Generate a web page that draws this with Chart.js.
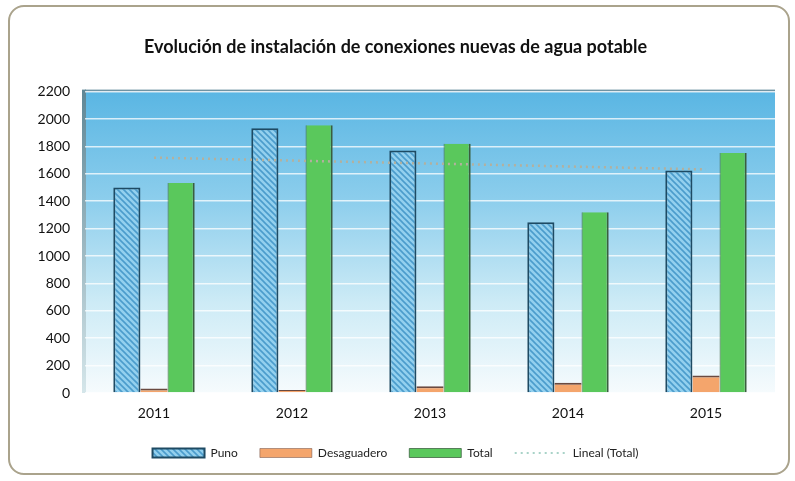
<!DOCTYPE html>
<html>
<head>
<meta charset="utf-8">
<script src="https://cdn.jsdelivr.net/npm/chart.js@4.4.0/dist/chart.umd.min.js"></script>
<style>
  body { margin: 0; background: #fff; }
  .wrap { position: relative; width: 795px; height: 481px; }
  .card {
    position: absolute; left: 8px; top: 5px; width: 782px; height: 470px;
    border: 2px solid #aaa38c; border-radius: 16px; box-sizing: border-box;
  }
  canvas { position: absolute; left: 0; top: 0; }
</style>
</head>
<body>
<div class="wrap">
  <div class="card"></div>
  <canvas id="myChart" width="795" height="481"></canvas>
</div>
<script>
// values
const years = ["2011", "2012", "2013", "2014", "2015"];
const puno = [1500, 1932, 1770, 1246, 1624];
const desaguadero = [32, 22, 49, 74, 128];
const total = [1532, 1954, 1819, 1320, 1752];
// linear trend of Total, ends
const trend = [1718, null, null, null, 1632];
const yTicks = [0, 200, 400, 600, 800, 1000, 1200, 1400, 1600, 1800, 2000, 2200];

// blue hatch for Puno
function makeHatch() {
    const c = document.createElement("canvas");
    c.width = 6; c.height = 6;
    const g = c.getContext("2d");
    g.fillStyle = "#93d0ee";
    g.fillRect(0, 0, 6, 6);
    g.strokeStyle = "#4b9ccc";
    g.lineWidth = 1.6;
    g.beginPath();
    g.moveTo(-1, -1); g.lineTo(7, 7);
    g.moveTo(-4, 2); g.lineTo(4, 10);
    g.moveTo(2, -4); g.lineTo(10, 4);
    g.stroke();
    return g.createPattern(c, "repeat");
}
const ctx = document.getElementById("myChart").getContext("2d");
const hatch = makeHatch();

// blue wall behind the plot
const wallPlugin = {
    id: "wall",
    beforeDraw(chart) {
        const a = chart.chartArea, c = chart.ctx;
        const grad = c.createLinearGradient(0, a.top, 0, a.bottom);
        grad.addColorStop(0, "#5ab6e3");
        grad.addColorStop(0.35, "#8bcdec");
        grad.addColorStop(0.7, "#cdebf6");
        grad.addColorStop(1, "#f6fbfd");
        c.save();
        c.fillStyle = grad;
        c.fillRect(a.left, a.top, a.right - a.left, a.bottom - a.top);
        c.fillStyle = "#6f93a3";
        c.fillRect(a.left, a.top - 2, a.right - a.left, 2);
        const side = c.createLinearGradient(0, a.top, 0, a.bottom);
        side.addColorStop(0, "#5f8796");
        side.addColorStop(1, "#d5e6ea");
        c.fillStyle = side;
        c.fillRect(a.left - 3, a.top - 2, 4, a.bottom - a.top + 2);
        c.restore();
    }
};

new Chart(ctx, {
    type: "bar",
    data: {
        labels: years,
        datasets: [
            {
                label: "Puno",
                data: puno,
                backgroundColor: hatch,
                borderColor: "#1e4a63",
                borderWidth: 2,
                pointStyle: "rect",
                order: 2,
            },
            {
                label: "Desaguadero",
                data: desaguadero,
                backgroundColor: "#f4a56c",
                borderColor: "#6a4a40",
                borderWidth: { top: 2, left: 0, right: 0, bottom: 0 },
                borderSkipped: false,
                pointStyle: "rect",
                order: 2,
            },
            {
                label: "Total",
                data: total,
                backgroundColor: "#5ac85c",
                borderColor: "#3a5e3e",
                borderWidth: { top: 0, left: 1, right: 2, bottom: 0 },
                borderSkipped: false,
                pointStyle: "rect",
                order: 2,
            },
            {
                type: "line",
                label: "Lineal (Total)",
                data: trend,
                spanGaps: true,
                borderColor: "#b3b09e",
                backgroundColor: "rgba(0,0,0,0)",
                borderWidth: 2.5,
                borderDash: [2, 4],
                pointRadius: 0,
                pointStyle: "line",
                order: 1,
            },
        ],
    },
    options: {
        responsive: false,
        animation: false,
        datasets: {
            bar: { categoryPercentage: 0.59, barPercentage: 1 },
        },
        layout: { padding: { left: 16, right: 20, top: 0, bottom: 12 } },
        plugins: {
            tooltip: { enabled: false },
            title: {
                display: true,
                text: "Evolución de instalación de conexiones nuevas de agua potable",
                color: "#111",
                font: { family: "Lato", size: 18, weight: "bold" },
                padding: { top: 36, bottom: 34 },
            },
            legend: {
                position: "bottom",
                labels: {
                    color: "#222",
                    font: { family: "Lato", size: 12 },
                    usePointStyle: true,
                    pointStyleWidth: 52,
                    boxWidth: 52,
                    boxHeight: 9,
                    padding: 22,
                    sort: (a, b) => a.datasetIndex - b.datasetIndex,
                    generateLabels(chart) {
                        const items = Chart.defaults.plugins.legend.labels.generateLabels(chart);
                        items.forEach(it => {
                            if (it.datasetIndex === 3) {
                                it.lineDash = [2, 4];
                                it.strokeStyle = "#a9d3c8";
                                it.lineWidth = 2;
                            }
                        });
                        return items;
                    },
                },
            },
        },
        scales: {
            x: {
                grid: { display: false, drawTicks: false },
                border: { display: false },
                ticks: { color: "#111", font: { family: "Lato", size: 14 }, padding: 12 },
                afterFit(scale) { scale.height = 32; },
            },
            y: {
                min: 0,
                max: 2200,
                afterBuildTicks(scale) { scale.ticks = yTicks.map(v => ({ value: v })); },
                grid: { color: "rgba(255,255,255,0.75)", lineWidth: 1.5, drawTicks: false },
                border: { display: false },
                ticks: {
                    color: "#111",
                    font: { family: "Lato", size: 14 },
                    padding: 15,
                    callback: v => String(v),
                },
                afterFit(scale) { scale.width = 69; },
            },
        },
    },
    plugins: [wallPlugin],
});
</script>
</body>
</html>
